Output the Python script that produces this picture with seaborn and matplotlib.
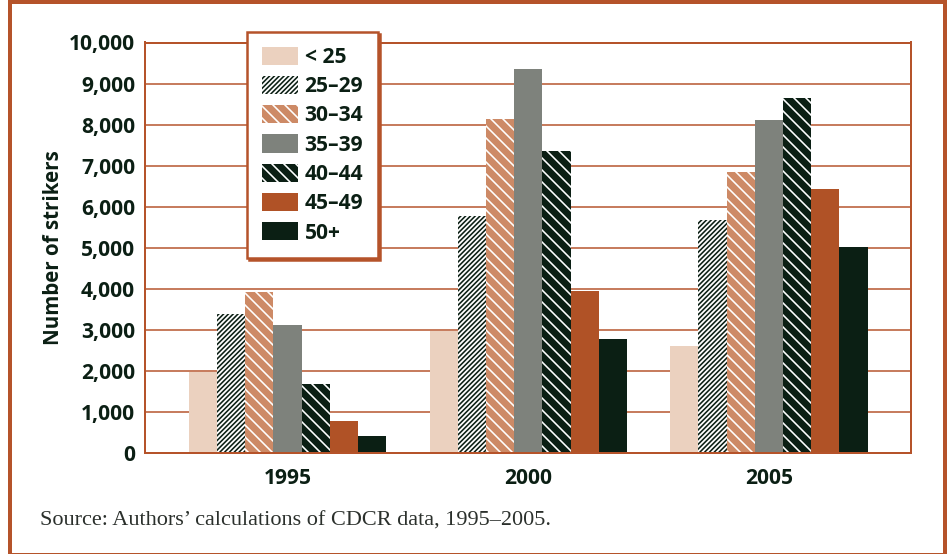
import matplotlib
matplotlib.use("Agg")
import matplotlib.pyplot as plt
from matplotlib.patches import Patch, Rectangle
import seaborn as sns
import pandas as pd

# ---- data -------------------------------------------------------------
years = ["1995", "2000", "2005"]
age_groups = ["< 25", "25\u201329", "30\u201334", "35\u201339", "40\u201344", "45\u201349", "50+"]
under_25 = [1980, 2970, 2610]
age_25_29 = [3390, 5770, 5680]
age_30_34 = [3910, 8140, 6850]
age_35_39 = [3120, 9350, 8110]
age_40_44 = [1680, 7360, 8650]
age_45_49 = [780, 3950, 6430]
age_50_plus = [410, 2780, 5020]
y_ticks = list(range(0, 10001, 1000))
source_note = "Source: Authors\u2019 calculations of CDCR data, 1995\u20132005."

# ---- styles -----------------------------------------------------------
ORANGE = "#B5532A"
INK = "#0B1F14"
face_colors = ["#EBD1BF", "#FFFFFF", "#CD8A66", "#7E827C", INK, "#B05226", INK]
hatches = [None, "/////", "\\\\", None, "\\\\", None, None]
hatch_colors = [None, INK, "#FFFFFF", None, "#FFFFFF", None, None]

DPI = 72  # one point == one pixel
W, H = 949, 554

sns.set_theme(style="white")
plt.rcParams["font.family"] = ["Open Sans", "DejaVu Sans"]
plt.rcParams["hatch.linewidth"] = 1.6

rows = []
for series, vals in zip(age_groups, [under_25, age_25_29, age_30_34, age_35_39,
                                     age_40_44, age_45_49, age_50_plus]):
    for yr, v in zip(years, vals):
        rows.append({"year": yr, "age": series, "strikers": v})
df = pd.DataFrame(rows)

fig = plt.figure(figsize=(W / DPI, H / DPI), dpi=DPI)
fig.patch.set_facecolor("white")
ax = fig.add_axes([145 / W, 1 - 453 / H, (911 - 145) / W, (453 - 42.5) / H])

sns.barplot(data=df, x="year", y="strikers", hue="age", order=years,
            hue_order=age_groups, palette=face_colors, saturation=1,
            width=0.82, legend=False, ax=ax, errorbar=None)

for cont, h, hc in zip(ax.containers, hatches, hatch_colors):
    for bar in cont:
        bar.set_linewidth(0)
        if h:
            bar.set_hatch(h)
            bar.set_edgecolor(hc)
        else:
            bar.set_edgecolor(bar.get_facecolor())

ax.set_xlim(-0.592, 2.590)
ax.set_ylim(0, 10000)
ax.set_yticks(y_ticks)
ax.set_yticklabels([f"{t:,}" for t in y_ticks])
ax.set_axisbelow(True)
ax.yaxis.grid(True, color=ORANGE, linewidth=1.5)
ax.xaxis.grid(False)
for side in ["left", "right", "top", "bottom"]:
    ax.spines[side].set_visible(True)
    ax.spines[side].set_color(ORANGE)
    ax.spines[side].set_linewidth(2)
    ax.spines[side].set_zorder(3)

ax.tick_params(axis="both", length=0, colors=INK)
ax.tick_params(axis="y", pad=10, labelsize=21)
ax.tick_params(axis="x", pad=15, labelsize=21)
for lab in ax.get_xticklabels() + ax.get_yticklabels():
    lab.set_fontweight("bold")
    lab.set_color(INK)

ax.set_xlabel("")
ax.set_ylabel("Number of strikers", fontsize=20.5, fontweight="bold", color=INK)
ax.yaxis.set_label_coords(-0.119, 0.5)
ax.yaxis.label.set_va("center")

handles = []
for fc, h, hc in zip(face_colors, hatches, hatch_colors):
    if h:
        handles.append(Patch(facecolor=fc, edgecolor=hc, hatch=h, linewidth=0))
    else:
        handles.append(Patch(facecolor=fc, edgecolor=fc, linewidth=0))

leg = ax.legend(handles, age_groups, loc="upper left",
                bbox_to_anchor=(247 / W, 1 - 32 / H), bbox_transform=fig.transFigure,
                borderaxespad=0, frameon=True, fancybox=False,
                shadow={"color": ORANGE, "alpha": 1},
                prop={"size": 21, "weight": "bold"},
                handlelength=1.72, handleheight=0.95, handletextpad=0.32,
                labelspacing=0.38, borderpad=0.7)
leg.get_frame().set_edgecolor(ORANGE)
leg.get_frame().set_linewidth(2.5)
leg.get_frame().set_facecolor("white")
for t in leg.get_texts():
    t.set_color(INK)

fig.text(40 / W, 1 - 526 / H, source_note, fontsize=22.3,
         family=["Liberation Serif", "DejaVu Serif"], color="#2B302C",
         ha="left", va="baseline")

# outer frame
fig.add_artist(Rectangle((10 / W, 1 - 555 / H), 935 / W, (555 - 1.75) / H,
                         transform=fig.transFigure, fill=False,
                         edgecolor=ORANGE, linewidth=4, clip_on=False))

fig.savefig("out.png", dpi=DPI, facecolor="white")
